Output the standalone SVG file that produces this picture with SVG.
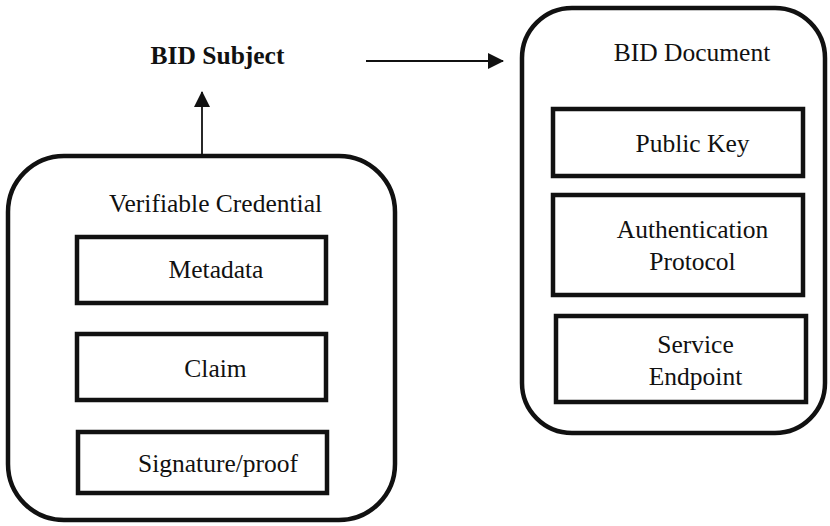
<svg xmlns="http://www.w3.org/2000/svg" width="830" height="526" viewBox="0 0 830 526">
<style>
.outer{fill:none;stroke:#111;stroke-width:4.5}
.inner{fill:#fff;stroke:#111;stroke-width:4.5}
.t{font-size:25.5px;fill:#111;text-anchor:middle}
.b{font-weight:bold}
.c{stroke:#111;stroke-width:1.8;fill:none}
</style>
<defs>
<marker id="ah" viewBox="0 0 16 16" refX="15" refY="8" markerWidth="16" markerHeight="16" markerUnits="userSpaceOnUse" orient="auto">
<path d="M0,0 L16,8 L0,16 Z" fill="#111"/>
</marker>
</defs>
<rect width="830" height="526" fill="#fff"/>
<g font-family="'Liberation Serif', 'DejaVu Serif', serif">
<g id="bid-subject">
<text class="t b" x="217.5" y="64">BID Subject</text>
</g>
<g id="verifiable-credential">
<rect class="outer" x="8" y="156" width="387" height="364" rx="56"/>
<text class="t" x="215.5" y="212">Verifiable Credential</text>
</g>
<g id="metadata">
<rect class="inner" x="77" y="237" width="249" height="66"/>
<text class="t" x="216" y="278">Metadata</text>
</g>
<g id="claim">
<rect class="inner" x="77" y="334" width="249" height="66"/>
<text class="t" x="215.5" y="377">Claim</text>
</g>
<g id="signature">
<rect class="inner" x="78" y="432" width="249" height="61"/>
<text class="t" x="218" y="472">Signature/proof</text>
</g>
<g id="bid-document">
<rect class="outer" x="522" y="8" width="303" height="425" rx="50"/>
<text class="t" x="692" y="61">BID Document</text>
</g>
<g id="public-key">
<rect class="inner" x="553" y="109" width="250" height="67"/>
<text class="t" x="692.5" y="152">Public Key</text>
</g>
<g id="authentication-protocol">
<rect class="inner" x="553" y="195" width="250" height="100"/>
<text class="t" x="692.5" y="238">Authentication</text>
<text class="t" x="692.5" y="270">Protocol</text>
</g>
<g id="service-endpoint">
<rect class="inner" x="556" y="316" width="250" height="86"/>
<text class="t" x="695.5" y="353">Service</text>
<text class="t" x="695.5" y="385">Endpoint</text>
</g>
</g>
<g id="connectors">
<line class="c" x1="202" y1="155" x2="202" y2="92" marker-end="url(#ah)"/>
<line class="c" x1="366" y1="61" x2="503" y2="61" marker-end="url(#ah)"/>
</g>
</svg>
